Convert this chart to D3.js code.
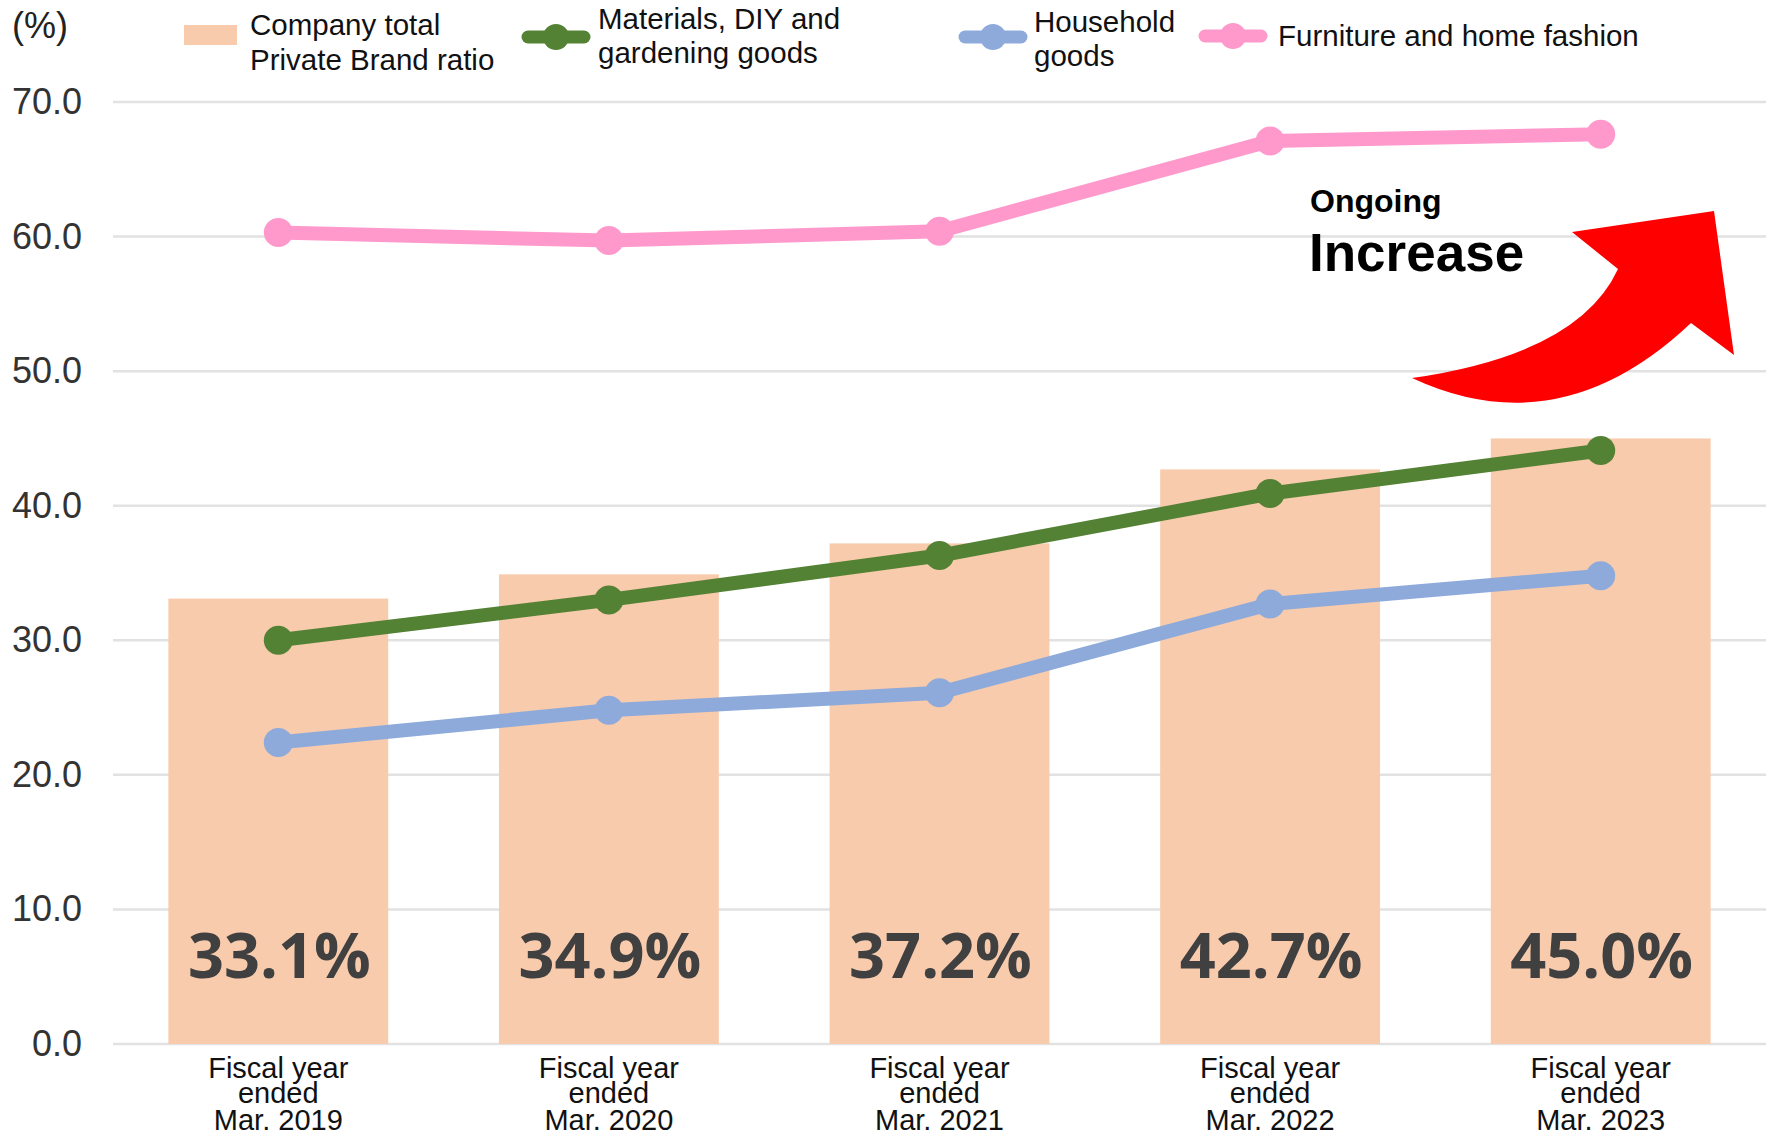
<!DOCTYPE html>
<html>
<head>
<meta charset="utf-8">
<script src="https://cdn.jsdelivr.net/npm/d3@7"></script>
<style>
  body { margin: 0; background: #fff; }
  svg { display: block; }
</style>
</head>
<body>
<svg id="chart" width="1769" height="1136"></svg>
<script>
// chart data
var categories = [
    ["Fiscal year", "ended", "Mar. 2019"],
    ["Fiscal year", "ended", "Mar. 2020"],
    ["Fiscal year", "ended", "Mar. 2021"],
    ["Fiscal year", "ended", "Mar. 2022"],
    ["Fiscal year", "ended", "Mar. 2023"]
];
var totalRatio = [33.1, 34.9, 37.2, 42.7, 45.0];
var materials = [30.0, 33.0, 36.3, 40.9, 44.1];
var household = [22.4, 24.8, 26.1, 32.7, 34.8];
var furniture = [60.3, 59.7, 60.4, 67.1, 67.6];
var yTicks = [0, 10, 20, 30, 40, 50, 60, 70];

var svg = d3.select("#chart"),
    width = +svg.attr("width"),
    height = +svg.attr("height");

var font = "'Liberation Sans', Arial, sans-serif";

var x = d3.scaleBand()
    .domain(d3.range(categories.length))
    .range([113, 1766])
    .paddingInner(0.335)
    .paddingOuter(0.1675);

var y = d3.scaleLinear()
    .domain([0, 70])
    .range([1044, 102]);

// gridlines
svg.append("g")
    .selectAll("line")
    .data(yTicks)
    .enter().append("line")
    .attr("x1", 113)
    .attr("x2", 1766)
    .attr("y1", function (d) { return y(d); })
    .attr("y2", function (d) { return y(d); })
    .attr("stroke", "#e2e2e2")
    .attr("stroke-width", 2.5);

// y axis labels
var yAxis = d3.axisLeft(y)
    .tickValues(yTicks)
    .tickFormat(d3.format(".1f"))
    .tickSize(0)
    .tickPadding(0);

var yg = svg.append("g")
    .attr("transform", "translate(82,0)")
    .call(yAxis);
yg.select(".domain").remove();
yg.selectAll("text")
    .attr("font-family", font)
    .attr("font-size", 36)
    .attr("fill", "#333");

svg.append("text")
    .attr("x", 12)
    .attr("y", 38)
    .attr("font-family", font)
    .attr("font-size", 36)
    .attr("fill", "#222")
    .text("(%)");

// bars
svg.append("g")
    .selectAll("rect")
    .data(totalRatio)
    .enter().append("rect")
    .attr("x", function (d, i) { return x(i); })
    .attr("y", function (d) { return y(d); })
    .attr("width", x.bandwidth())
    .attr("height", function (d) { return y(0) - y(d); })
    .attr("fill", "#f8cbad");

svg.append("g")
    .selectAll("text")
    .data(totalRatio)
    .enter().append("text")
    .attr("x", function (d, i) { return x(i) + x.bandwidth() / 2 + 1; })
    .attr("y", y(0) - 66)
    .attr("text-anchor", "middle")
    .attr("font-family", "'Open Sans', 'DejaVu Sans', sans-serif")
    .attr("font-weight", "bold")
    .attr("font-size", 63)
    .attr("fill", "#404040")
    .text(function (d) { return d.toFixed(1) + "%"; });

// x labels
var xl = svg.append("g")
    .selectAll("text")
    .data(categories)
    .enter().append("text")
    .attr("text-anchor", "middle")
    .attr("font-family", font)
    .attr("font-size", 29)
    .attr("fill", "#111");
xl.each(function (lines, i) {
    var cx = x(i) + x.bandwidth() / 2;
    d3.select(this).selectAll("tspan")
        .data(lines)
        .enter().append("tspan")
        .attr("x", cx)
        .attr("y", function (d, k) { return y(0) + 34 + k * 25 + (k == 2 ? 2 : 0); })
        .text(function (d) { return d; });
});

// lines
var series = [
    { values: materials, color: "#548235" },
    { values: household, color: "#8eaadb" },
    { values: furniture, color: "#ff99cc" }
];

var line = d3.line()
    .x(function (d, i) { return x(i) + x.bandwidth() / 2; })
    .y(function (d) { return y(d); });

series.forEach(function (s) {
    var g = svg.append("g");
    g.append("path")
        .datum(s.values)
        .attr("d", line)
        .attr("fill", "none")
        .attr("stroke", s.color)
        .attr("stroke-width", 14)
        .attr("stroke-linejoin", "round");
    g.selectAll("circle")
        .data(s.values)
        .enter().append("circle")
        .attr("cx", function (d, i) { return x(i) + x.bandwidth() / 2; })
        .attr("cy", function (d) { return y(d); })
        .attr("r", 14.5)
        .attr("fill", s.color);
});

// legend
var legend = svg.append("g").attr("font-family", font).attr("font-size", 29.5).attr("fill", "#111");

legend.append("rect")
    .attr("x", 184).attr("y", 25).attr("width", 53).attr("height", 20)
    .attr("fill", "#f8cbad");
legend.append("text").attr("x", 250).attr("y", 35).text("Company total");
legend.append("text").attr("x", 250).attr("y", 70).text("Private Brand ratio");

function lineKey(cx, cy, color) {
    legend.append("line")
        .attr("x1", cx - 28).attr("x2", cx + 28)
        .attr("y1", cy).attr("y2", cy)
        .attr("stroke", color).attr("stroke-width", 13).attr("stroke-linecap", "round");
    legend.append("circle")
        .attr("cx", cx).attr("cy", cy).attr("r", 13).attr("fill", color);
}

lineKey(556, 37, "#548235");
legend.append("text").attr("x", 598).attr("y", 29).text("Materials, DIY and");
legend.append("text").attr("x", 598).attr("y", 63).text("gardening goods");

lineKey(993, 37, "#8eaadb");
legend.append("text").attr("x", 1034).attr("y", 32).text("Household");
legend.append("text").attr("x", 1034).attr("y", 66).text("goods");

lineKey(1233, 36, "#ff99cc");
legend.append("text").attr("x", 1278).attr("y", 46).text("Furniture and home fashion");

// annotation
svg.append("path")
    .attr("d", "M1412,378 Q1579,354 1618,269 L1572,232 L1714,211 L1734,355 L1691,323 Q1560,447 1412,378 Z")
    .attr("fill", "#ff0000");

svg.append("text")
    .attr("x", 1310).attr("y", 212)
    .attr("font-family", font).attr("font-weight", "bold").attr("font-size", 32)
    .attr("fill", "#000")
    .text("Ongoing");
svg.append("text")
    .attr("x", 1309).attr("y", 271)
    .attr("font-family", font).attr("font-weight", "bold").attr("font-size", 53)
    .attr("fill", "#000")
    .text("Increase");
</script>
</body>
</html>
